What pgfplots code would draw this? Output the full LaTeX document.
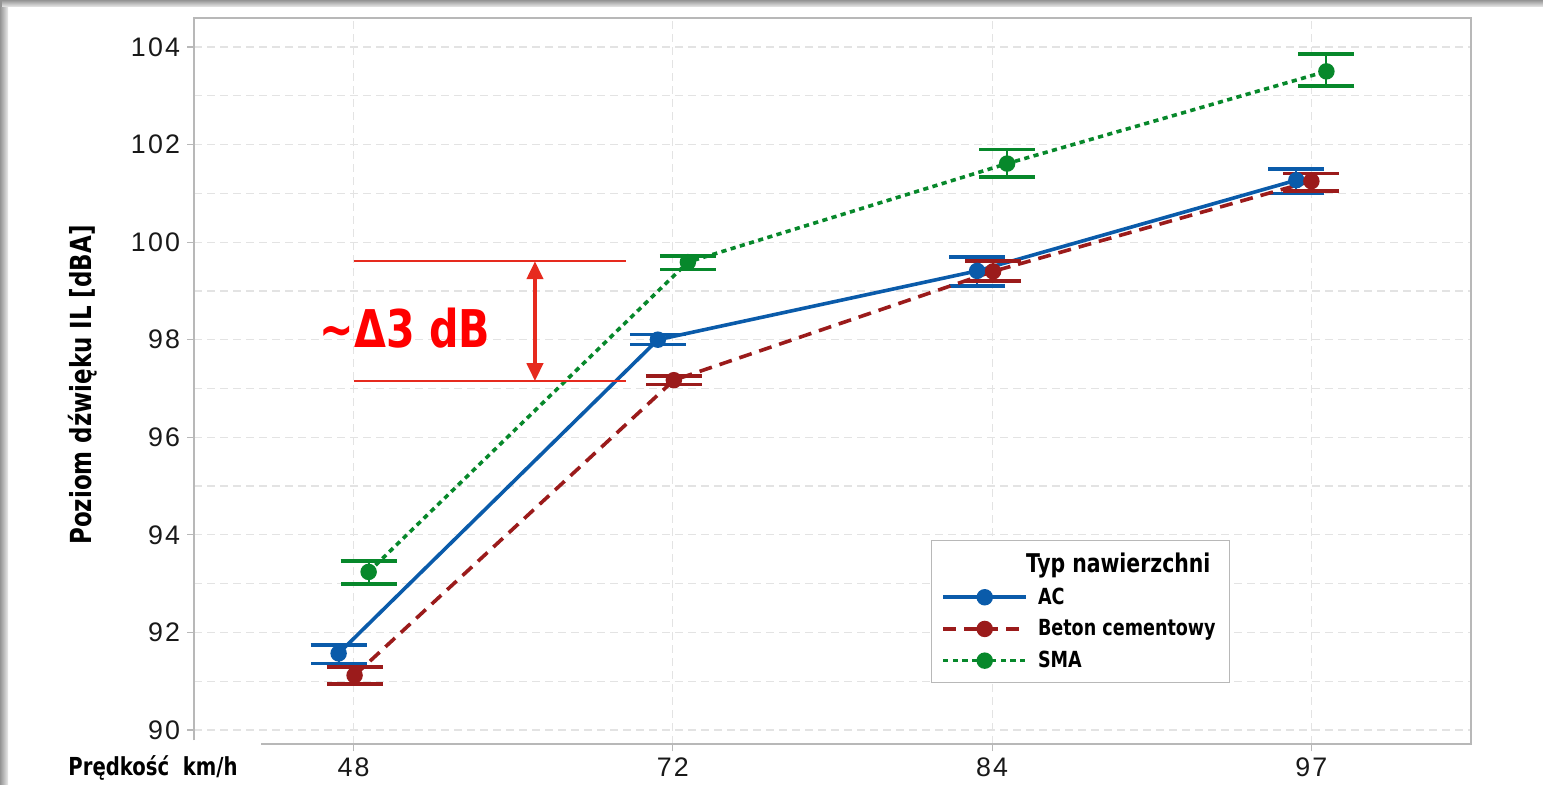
\documentclass[border=0pt]{standalone}
\usepackage{pgfplots}
\pgfplotsset{compat=1.18}
\usepackage{pgfplotstable}
\usepackage{fontspec}
\usetikzlibrary{arrows.meta}
\setmainfont{DejaVu Sans Condensed}
\newfontfamily\lab{DejaVu Sans Condensed}[FakeStretch=0.88]
\newfontfamily\tickfont{Liberation Sans}[LetterSpace=8]

\definecolor{acblue}{HTML}{0A5BAA}
\definecolor{betonred}{HTML}{9B1B1B}
\definecolor{smagreen}{HTML}{07882B}
\definecolor{annot}{HTML}{E62A1E}
\definecolor{framegray}{HTML}{B8B8B8}
\definecolor{gridgray}{HTML}{E3E3E3}

% mean noise level with asymmetric interval half-widths (ep = up, em = down)
\pgfplotstableread{
x      y      ep    em
-0.047 91.57  0.17  0.21
0.953  98.00  0.11  0.10
1.953  99.41  0.29  0.31
2.953  101.27 0.23  0.27
}\acdata
\pgfplotstableread{
x      y      ep    em
0.003  91.12  0.17  0.18
1.003  97.17  0.09  0.09
2.003  99.40  0.21  0.20
3.000  101.25 0.16  0.20
}\betondata
\pgfplotstableread{
x      y      ep    em
0.047  93.24  0.22  0.25
1.047  99.59  0.13  0.15
2.047  101.61 0.29  0.27
3.047  103.50 0.35  0.30
}\smadata

\pgfplotsset{
  series/.style={line width=1.8bp, mark=*, mark size=3.2bp, mark options={solid},
    error bars/.cd, y dir=both, y explicit, error mark=|,
    error bar style={line width=1.1bp, solid},
    error mark options={line width=1.8bp, mark size=14bp, solid, #1}},
}

\begin{document}
\begin{tikzpicture}
% page background with the soft card shadow along the top and left edges
\fill[white] (0,0) rectangle (771.5bp,392.5bp);
\shade[left color=black!42, right color=black!8] (0,0) rectangle (4bp,392.5bp);
\shade[top color=black!42, bottom color=black!8] (0,392.5bp) rectangle (771.5bp,389bp);
\fill[black!42] (0,392.5bp) rectangle (1bp,389bp);

\begin{axis}[
  at={(97bp,20.5bp)}, anchor=south west,
  scale only axis, width=638.5bp, height=363bp,
  xmin=-0.5, xmax=3.5, ymin=89.713, ymax=104.594,
  axis line style={draw=none},
  xtick={0,1,2,3}, xticklabels={48,72,84,97},
  ytick={90,92,...,104}, minor ytick={91,93,...,103},
  tick pos=left, tick align=outside,
  major tick length=3.5bp, minor tick length=0pt,
  tick style={draw=framegray, line width=0.6bp},
  grid=both,
  major grid style={gridgray, dash pattern=on 4bp off 2.5bp, line width=0.6bp},
  minor grid style={gridgray, dash pattern=on 4bp off 2.5bp, line width=0.6bp},
  /pgf/number format/assume math mode=true,
  ticklabel style={font=\tickfont\fontsize{13.4bp}{15bp}\selectfont, text=black!90},
  clip=false,
  legend style={at={(0.577,0.281)}, anchor=north west,
    draw=framegray, line width=0.6bp, fill=white,
    font=\lab\bfseries\fontsize{11.1bp}{12bp}\selectfont,
    inner xsep=5bp, inner ysep=4bp, row sep=2.2bp, column sep=3bp,
    cells={anchor=west}},
  legend image code/.code={%
    \draw[mark repeat=2, mark phase=2, #1]
      plot coordinates {(0bp,0bp) (20.75bp,0bp) (41.5bp,0bp)};},
]
\addlegendimage{empty legend}
\addlegendentry{\hspace*{-6bp}\fontsize{12.9bp}{14bp}\selectfont Typ nawierzchni}

\addplot[acblue, series=acblue]
  table[x=x, y=y, y error plus=ep, y error minus=em] {\acdata};
\addlegendentry{AC}

\addplot[betonred, dash pattern=on 6.5bp off 4bp, series=betonred]
  table[x=x, y=y, y error plus=ep, y error minus=em] {\betondata};
\addlegendentry{Beton cementowy}

\addplot[smagreen, dash pattern=on 2.6bp off 2.2bp, series=smagreen]
  table[x=x, y=y, y error plus=ep, y error minus=em] {\smadata};
\addlegendentry{SMA}

% difference between the SMA and concrete levels at 72 km/h
\draw[annot, line width=1.1bp] (axis cs:0,99.61) -- (axis cs:0.853,99.61);
\draw[annot, line width=1.1bp] (axis cs:0,97.15) -- (axis cs:0.853,97.15);
\draw[annot, line width=2bp,
  {Triangle[length=9bp,width=8bp]}-{Triangle[length=9bp,width=8bp]}]
  (axis cs:0.568,99.61) -- (axis cs:0.568,97.15);
\node[text=red, font=\lab\bfseries\fontsize{26bp}{30bp}\selectfont]
  at (axis cs:0.161,98.24) {\textasciitilde Δ3 dB};

% detached frame
\draw[framegray, line width=0.8bp]
  (rel axis cs:0,0.0055) -- (rel axis cs:0,1) -- (rel axis cs:1,1)
  -- (rel axis cs:1,0) -- (rel axis cs:0.0525,0);
\end{axis}

\node[rotate=90, font=\lab\bfseries\fontsize{14.5bp}{16bp}\selectfont]
  at ({83*0.5bp},{(785-385)*0.5bp}) {Poziom dźwięku IL [dBA]};
\node[anchor=base, font=\lab\bfseries\fontsize{12.4bp}{14bp}\selectfont]
  at ({153*0.5bp},{(785-775)*0.5bp}) {Prędkość\ \ km/h};

\pgfresetboundingbox
\path (0,0) rectangle (771.5bp,392.5bp);
\end{tikzpicture}
\end{document}
